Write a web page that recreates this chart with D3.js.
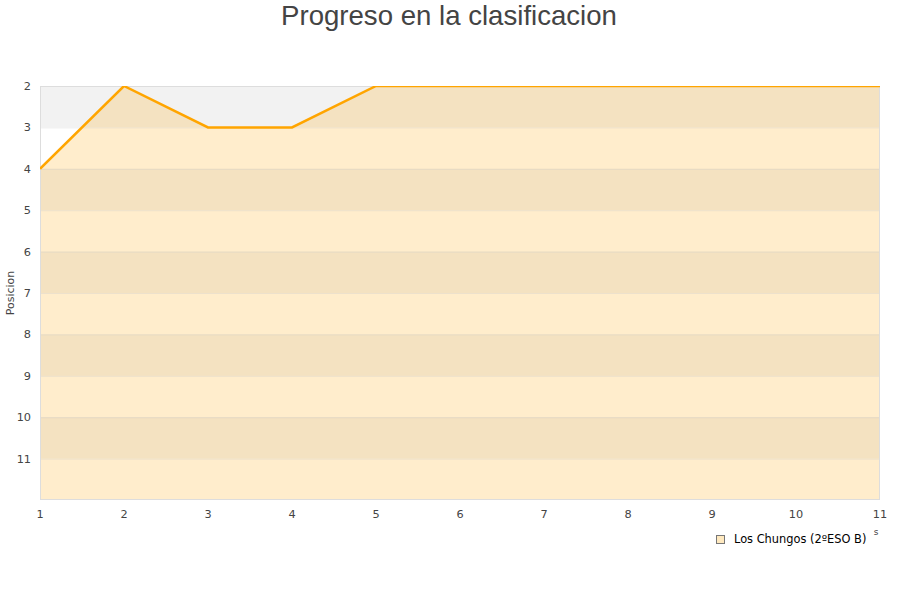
<!DOCTYPE html>
<html><head><meta charset="utf-8">
<script src="https://cdn.jsdelivr.net/npm/d3@7"></script>
<style>body{margin:0;background:#fff}</style>
</head><body>
<svg id="c" width="900" height="600"></svg>
<script>
const jornadas = [1,2,3,4,5,6,7,8,9,10,11];
const posiciones = [4,2,3,3,2,2,2,2,2,2,2];
const yTicks = [2,3,4,5,6,7,8,9,10,11];
const seriesName = "Los Chungos (2ºESO B)";
const titleText = "Progreso en la clasificacion";
const yTitle = "Posicion";

const svg = d3.select("#c");
const L = 40, R = 880, T = 86, B = 500;
const x = d3.scaleLinear().domain([1,11]).range([L,R]);
const y = d3.scaleLinear().domain([2,12]).range([T,B]);

svg.append("text").attr("x",449).attr("y",25).attr("text-anchor","middle")
  .attr("font-family","Liberation Sans, Arial, sans-serif").attr("font-size",27.6).attr("fill","#444").text(titleText);

// bands
const bands = d3.range(2,12);
svg.append("g").selectAll("rect").data(bands).join("rect")
  .attr("x",L).attr("width",R-L)
  .attr("y",d=>y(d)).attr("height",d=>y(d+1)-y(d))
  .attr("fill",d=>d%2===0?"#f2f2f2":"#ffffff");

svg.append("defs").append("clipPath").attr("id","clip").append("rect")
  .attr("x",L).attr("y",T).attr("width",R-L).attr("height",B-T);

const area = d3.area().x((d,i)=>x(jornadas[i])).y0(B).y1(d=>y(d));
svg.append("path").datum(posiciones).attr("d",area).attr("fill","#ffa500").attr("fill-opacity",0.2);

// grid
svg.append("g").selectAll("line").data(yTicks.slice(1)).join("line")
  .attr("x1",L).attr("x2",R).attr("y1",d=>y(d)+0.5).attr("y2",d=>y(d)+0.5)
  .attr("stroke","#ccc").attr("stroke-opacity",0.35);

// border
svg.append("rect").attr("x",L+0.5).attr("y",T+0.5).attr("width",R-L-1).attr("height",B-T-1)
  .attr("fill","none").attr("stroke","#ddd");

const line = d3.line().x((d,i)=>x(jornadas[i])).y(d=>y(d));
svg.append("path").datum(posiciones).attr("d",line).attr("fill","none")
  .attr("stroke","#ffa500").attr("stroke-width",2.5).attr("clip-path","url(#clip)");

// y tick labels
svg.append("g").selectAll("text").data(yTicks).join("text")
  .attr("x",31).attr("y",d=>y(d)+4).attr("text-anchor","end")
  .attr("font-family","DejaVu Sans, sans-serif").attr("font-size",11.3).attr("fill","#444").text(d=>d);

// x tick labels
svg.append("g").selectAll("text").data(jornadas).join("text")
  .attr("x",d=>x(d)).attr("y",518).attr("text-anchor","middle")
  .attr("font-family","DejaVu Sans, sans-serif").attr("font-size",11.3).attr("fill","#444").text(d=>d);

svg.append("text").attr("transform","translate(14,293) rotate(-90)").attr("text-anchor","middle")
  .attr("font-family","DejaVu Sans, sans-serif").attr("font-size",11).attr("fill","#444").text(yTitle);

svg.append("text").attr("x",876).attr("y",535).attr("text-anchor","middle")
  .attr("font-family","DejaVu Sans, sans-serif").attr("font-size",9).attr("fill","#444").text("s");

// legend
svg.append("rect").attr("x",716.5).attr("y",535.5).attr("width",8).attr("height",8)
  .attr("fill","#ffe9bf").attr("stroke","#777");
svg.append("text").attr("x",734).attr("y",543).attr("font-family","DejaVu Sans, sans-serif")
  .attr("font-size",11.4).attr("fill","#000").text(seriesName);
</script>
</body></html>
